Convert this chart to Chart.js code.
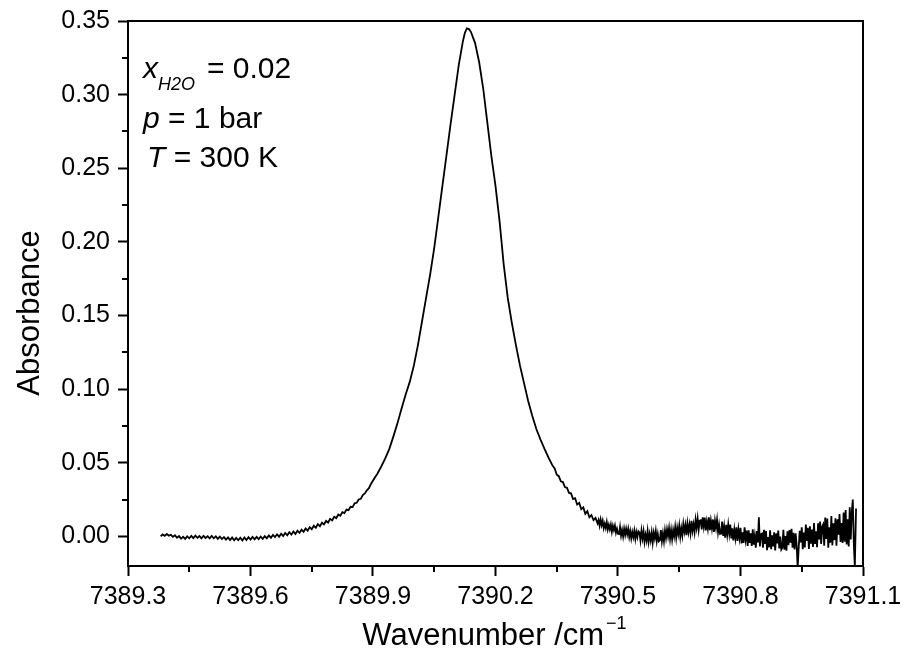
<!DOCTYPE html>
<html>
<head>
<meta charset="utf-8">
<script src="https://cdn.jsdelivr.net/npm/chart.js@4.4.1/dist/chart.umd.min.js"></script>
<style>
html,body{margin:0;padding:0;background:#fff;}
#wrap{width:904px;height:653px;}
</style>
</head>
<body>
<div id="wrap"><canvas id="c" width="904" height="653"></canvas></div>
<script>
// ---- data ----
const wavenumber = [
7389.380,7389.385,7389.390,7389.395,7389.400,7389.405,7389.410,7389.415,7389.420,7389.425,
7389.430,7389.435,7389.440,7389.445,7389.450,7389.455,7389.460,7389.465,7389.470,7389.475,
7389.480,7389.485,7389.490,7389.495,7389.500,7389.505,7389.510,7389.515,7389.520,7389.525,
7389.530,7389.535,7389.540,7389.545,7389.550,7389.555,7389.560,7389.565,7389.570,7389.575,
7389.580,7389.585,7389.590,7389.595,7389.600,7389.605,7389.610,7389.615,7389.620,7389.625,
7389.630,7389.635,7389.640,7389.645,7389.650,7389.655,7389.660,7389.665,7389.670,7389.675,
7389.680,7389.685,7389.690,7389.695,7389.700,7389.705,7389.710,7389.715,7389.720,7389.725,
7389.730,7389.735,7389.740,7389.745,7389.750,7389.755,7389.760,7389.765,7389.770,7389.775,
7389.780,7389.785,7389.790,7389.795,7389.800,7389.805,7389.810,7389.815,7389.820,7389.825,
7389.830,7389.835,7389.840,7389.845,7389.850,7389.855,7389.860,7389.865,7389.870,7389.875,
7389.880,7389.885,7389.890,7389.895,7389.900,7389.905,7389.910,7389.915,7389.920,7389.930,
7389.940,7389.950,7389.960,7389.970,7389.980,7389.990,7390.000,7390.010,7390.020,7390.030,
7390.040,7390.050,7390.060,7390.070,7390.080,7390.090,7390.100,7390.110,7390.120,7390.125,
7390.130,7390.135,7390.140,7390.150,7390.160,7390.170,7390.180,7390.190,7390.200,7390.210,
7390.220,7390.230,7390.240,7390.250,7390.260,7390.270,7390.280,7390.290,7390.300,7390.310,
7390.320,7390.330,7390.340,7390.345,7390.350,7390.355,7390.360,7390.365,7390.370,7390.375,
7390.380,7390.385,7390.390,7390.395,7390.400,7390.405,7390.410,7390.415,7390.420,7390.425,
7390.430,7390.435,7390.440,7390.445,7390.450,
7390.4525,7390.4550,7390.4575,7390.4600,7390.4625,7390.4650,7390.4675,7390.4700,7390.4725,7390.4750,
7390.4775,7390.4800,7390.4825,7390.4850,7390.4875,7390.4900,7390.4925,7390.4950,7390.4975,7390.5000,
7390.5025,7390.5050,7390.5075,7390.5100,7390.5125,7390.5150,7390.5175,7390.5200,7390.5225,7390.5250,
7390.5275,7390.5300,7390.5325,7390.5350,7390.5375,7390.5400,7390.5425,7390.5450,7390.5475,7390.5500,
7390.5525,7390.5550,7390.5575,7390.5600,7390.5625,7390.5650,7390.5675,7390.5700,7390.5725,7390.5750,
7390.5775,7390.5800,7390.5825,7390.5850,7390.5875,7390.5900,7390.5925,7390.5950,7390.5975,7390.6000,
7390.6025,7390.6050,7390.6075,7390.6100,7390.6125,7390.6150,7390.6175,7390.6200,7390.6225,7390.6250,
7390.6275,7390.6300,7390.6325,7390.6350,7390.6375,7390.6400,7390.6425,7390.6450,7390.6475,7390.6500,
7390.6525,7390.6550,7390.6575,7390.6600,7390.6625,7390.6650,7390.6675,7390.6700,7390.6725,7390.6750,
7390.6775,7390.6800,7390.6825,7390.6850,7390.6875,7390.6900,7390.6925,7390.6950,7390.6975,7390.7000,
7390.7025,7390.7050,7390.7075,7390.7100,7390.7125,7390.7150,7390.7175,7390.7200,7390.7225,7390.7250,
7390.7275,7390.7300,7390.7325,7390.7350,7390.7375,7390.7400,7390.7425,7390.7450,7390.7475,7390.7500,
7390.7525,7390.7550,7390.7575,7390.7600,7390.7625,7390.7650,7390.7675,7390.7700,7390.7725,7390.7750,
7390.7775,7390.7800,7390.7825,7390.7850,7390.7875,7390.7900,7390.7925,7390.7950,7390.7975,7390.8000,
7390.8025,7390.8050,7390.8075,7390.8100,7390.8125,7390.8150,7390.8175,7390.8200,7390.8225,7390.8250,
7390.8275,7390.8300,7390.8325,7390.8350,7390.8375,7390.8400,7390.8425,7390.8450,7390.8475,7390.8500,
7390.8525,7390.8550,7390.8575,7390.8600,7390.8625,7390.8650,7390.8675,7390.8700,7390.8725,7390.8750,
7390.8775,7390.8800,7390.8825,7390.8850,7390.8875,7390.8900,7390.8925,7390.8950,7390.8975,7390.9000,
7390.9025,7390.9050,7390.9075,7390.9100,7390.9125,7390.9150,7390.9175,7390.9200,7390.9225,7390.9250,
7390.9275,7390.9300,7390.9325,7390.9350,7390.9375,7390.9400,7390.9425,7390.9450,7390.9475,7390.9500,
7390.9525,7390.9550,7390.9575,7390.9600,7390.9625,7390.9650,7390.9675,7390.9700,7390.9725,7390.9750,
7390.9775,7390.9800,7390.9825,7390.9850,7390.9875,7390.9900,7390.9925,7390.9950,7390.9975,7391.0000,
7391.0025,7391.0050,7391.0075,7391.0100,7391.0125,7391.0150,7391.0175,7391.0200,7391.0225,7391.0250,
7391.0275,7391.0300,7391.0325,7391.0350,7391.0375,7391.0400,7391.0425,7391.0450,7391.0475,7391.0500,
7391.0525,7391.0550,7391.0575,7391.0600,7391.0625,7391.0650,7391.0675,7391.0700,7391.0725,7391.0750,
7391.0775,7391.0800,7391.0830
];
const absorbance = [
0.0002,0.0014,0.0004,0.0017,0.0006,0.0012,-0.0002,0.0009,-0.0008,0.0003,
-0.0014,-0.0002,-0.0016,0.0001,-0.0012,0.0004,-0.0011,0.0006,-0.0009,0.0003,
-0.0012,0.0005,-0.0010,0.0002,-0.0013,0.0004,-0.0012,0.0001,-0.0016,-0.0001,
-0.0017,-0.0004,-0.0021,-0.0006,-0.0024,-0.0007,-0.0026,-0.0009,-0.0025,-0.0008,
-0.0027,-0.0006,-0.0023,-0.0005,-0.0021,-0.0003,-0.0019,-0.0002,-0.0018,0.0000,
-0.0015,0.0003,-0.0012,0.0007,-0.0008,0.0011,-0.0004,0.0015,-0.0001,0.0019,
0.0003,0.0024,0.0008,0.0029,0.0013,0.0034,0.0018,0.0040,0.0025,0.0046,
0.0032,0.0055,0.0040,0.0064,0.0050,0.0073,0.0060,0.0084,0.0070,0.0094,
0.0082,0.0106,0.0095,0.0120,0.0109,0.0134,0.0125,0.0149,0.0141,0.0166,
0.0159,0.0183,0.0179,0.0202,0.0200,0.0226,0.0229,0.0252,0.0256,0.0282,
0.0293,0.0314,0.0328,0.0357,0.0380,0.0402,0.0423,0.0448,0.0474,0.0530,
0.0595,0.0680,0.0770,0.0870,0.0965,0.1050,0.1160,0.1300,0.1460,0.1620,
0.1780,0.1960,0.2170,0.2380,0.2590,0.2800,0.3000,0.3200,0.3360,0.3420,
0.3450,0.3445,0.3425,0.3350,0.3220,0.3040,0.2810,0.2580,0.2380,0.2140,
0.1850,0.1620,0.1450,0.1300,0.1160,0.1040,0.0920,0.0820,0.0730,0.0660,
0.0595,0.0535,0.0480,0.0462,0.0420,0.0410,0.0375,0.0370,0.0336,0.0331,
0.0296,0.0293,0.0254,0.0260,0.0218,0.0228,0.0186,0.0198,0.0154,0.0172,
0.0131,0.0146,0.0112,0.0127,0.0089,
0.0112,0.0074,0.0116,0.0078,0.0107,0.0057,0.0087,0.0058,0.0098,0.0048,
0.0079,0.0049,0.0081,0.0033,0.0073,0.0044,0.0074,0.0026,0.0053,0.0018,
0.0016,0.0065,0.0007,0.0044,0.0000,0.0053,0.0012,0.0053,0.0015,0.0052,
-0.0003,0.0037,-0.0012,0.0031,-0.0004,0.0040,-0.0016,0.0031,-0.0004,0.0036,
0.0028,-0.0026,0.0041,-0.0013,0.0035,-0.0037,0.0011,-0.0027,0.0037,-0.0035,
0.0017,-0.0025,0.0028,-0.0040,0.0026,-0.0012,0.0038,-0.0030,0.0016,-0.0032,
-0.0025,0.0044,-0.0031,0.0022,-0.0032,0.0041,-0.0010,0.0048,0.0002,0.0056,
-0.0014,0.0044,-0.0018,0.0044,0.0002,0.0064,-0.0006,0.0059,0.0016,0.0073,
-0.0002,0.0055,0.0007,0.0085,0.0033,0.0077,0.0009,0.0088,0.0032,0.0081,
0.0024,0.0107,0.0039,0.0083,0.0030,0.0113,0.0060,0.0121,0.0047,0.0108,
0.0111,0.0049,0.0131,0.0069,0.0128,0.0042,0.0101,0.0054,0.0131,0.0044,
0.0107,0.0055,0.0116,0.0032,0.0107,0.0058,0.0114,0.0029,0.0080,0.0017,
0.0020,0.0102,0.0004,0.0066,-0.0007,0.0080,0.0013,0.0081,0.0018,0.0081,
-0.0012,0.0056,-0.0026,0.0047,-0.0011,0.0062,-0.0030,0.0048,-0.0009,0.0059,
-0.0047,0.0029,-0.0044,0.0062,-0.0018,0.0040,-0.0063,0.0043,-0.0043,0.0022,
-0.0064,0.0049,-0.0055,0.0004,-0.0075,0.0038,-0.0041,0.0130,-0.0067,0.0016,
0.0020,-0.0076,0.0046,-0.0050,0.0038,-0.0092,-0.0004,-0.0073,0.0043,-0.0086,
0.0008,-0.0067,0.0028,-0.0094,0.0021,-0.0047,0.0041,-0.0081,0.0000,-0.0088,
-0.0076,0.0046,-0.0090,0.0004,-0.0096,0.0035,-0.0058,0.0044,-0.0042,0.0053,
-0.0076,0.0026,-0.0088,0.0021,-0.0057,-0.0210,-0.0077,0.0039,-0.0040,0.0062,
-0.0086,0.0027,-0.0074,0.0081,-0.0029,0.0059,-0.0085,0.0069,-0.0048,0.0047,
-0.0071,0.0092,-0.0051,0.0036,-0.0073,0.0090,-0.0019,0.0101,-0.0051,0.0069,
0.0083,-0.0062,0.0129,-0.0017,0.0122,-0.0076,0.0062,-0.0042,0.0139,-0.0060,
0.0090,-0.0024,0.0124,-0.0063,0.0118,0.0013,0.0152,-0.0036,0.0092,-0.0043,
0.0163,-0.0036,0.0180,-0.0054,0.0117,-0.0067,0.0199,-0.0020,0.0170,0.0251,
-0.0049,-0.0205,0.0190
];
const xTicks = [7389.3, 7389.6, 7389.9, 7390.2, 7390.5, 7390.8, 7391.1];
const xMinorTicks = [7389.45, 7389.75, 7390.05, 7390.35, 7390.65, 7390.95];
const yTicks = [0.00, 0.05, 0.10, 0.15, 0.20, 0.25, 0.30, 0.35];
const yMinorTicks = [0.025, 0.075, 0.125, 0.175, 0.225, 0.275, 0.325];
const xRange = [7389.3, 7391.1];
const yRange = [-0.02, 0.35];
const xTitle = 'Wavenumber /cm';
const xTitleSup = '\u22121';
const yTitle = 'Absorbance';

const FONT = '"Liberation Sans", Arial, Helvetica, sans-serif';

const points = wavenumber.map((w, i) => ({x: w, y: absorbance[i]}));

function drawRun(ctx, parts, x, y) {
  let cx = x;
  parts.forEach(([t, f, dy]) => {
    ctx.font = f;
    ctx.fillText(t, cx, y + (dy || 0));
    cx += ctx.measureText(t).width;
  });
}

const decor = {
  id: 'decor',
  afterDraw(chart) {
    const ctx = chart.ctx;
    const {left, right, top, bottom} = chart.chartArea;
    const xs = chart.scales.x, ys = chart.scales.y;
    ctx.save();
    ctx.strokeStyle = '#000';
    ctx.lineWidth = 2;
    ctx.beginPath();
    ctx.moveTo(left - 1, top);
    ctx.lineTo(right, top);
    ctx.lineTo(right, bottom + 1);
    ctx.stroke();
    ctx.beginPath();
    xMinorTicks.forEach(v => { const px = Math.round(xs.getPixelForValue(v)); ctx.moveTo(px, bottom); ctx.lineTo(px, bottom + 6); });
    yMinorTicks.forEach(v => { const py = Math.round(ys.getPixelForValue(v)); ctx.moveTo(left, py); ctx.lineTo(left - 6, py); });
    ctx.stroke();

    ctx.fillStyle = '#000';
    ctx.textBaseline = 'alphabetic';
    ctx.textAlign = 'left';
    const it = 'italic 30px ' + FONT, rg = '30px ' + FONT, sub = 'italic 18px ' + FONT;
    drawRun(ctx, [['x', it], ['H2O', sub, 12]], 143, 78);
    ctx.font = rg; ctx.fillText('= 0.02', 207, 78);
    drawRun(ctx, [['p', it], [' = 1 bar', rg]], 143, 128);
    drawRun(ctx, [['T', it], [' = 300 K', rg]], 147, 167);

    const tf = '31px ' + FONT, sf = '18px ' + FONT;
    ctx.font = tf;
    const w1 = ctx.measureText(xTitle).width;
    ctx.font = sf;
    const w2 = ctx.measureText(xTitleSup).width;
    const cx = (left + right) / 2 - 2;
    const x0 = cx - (w1 + w2) / 2;
    ctx.font = tf;
    ctx.fillText(xTitle, x0, 645);
    ctx.font = sf;
    ctx.fillText(xTitleSup, x0 + w1 + 2, 629);

    ctx.translate(39, 313);
    ctx.rotate(-Math.PI / 2);
    ctx.textAlign = 'center';
    ctx.font = tf;
    ctx.fillText(yTitle, 0, 0);
    ctx.restore();
  }
};

new Chart(document.getElementById('c'), {
  type: 'line',
  data: {
    datasets: [{
      data: points,
      borderColor: '#000',
      borderWidth: 1.8,
      pointRadius: 0,
      tension: 0,
      fill: false
    }]
  },
  options: {
    responsive: false,
    animation: false,
    layout: {padding: {top: 21, right: 41, left: 0, bottom: 0}},
    plugins: {legend: {display: false}, tooltip: {enabled: false}},
    scales: {
      x: {
        type: 'linear',
        min: xRange[0], max: xRange[1],
        afterBuildTicks: s => { s.ticks = xTicks.map(v => ({value: v})); },
        afterFit: s => { s.height = 87; s.paddingLeft = 0; s.paddingRight = 0; },
        ticks: {
          color: '#000', padding: 6, maxRotation: 0, autoSkip: false,
          font: {family: FONT, size: 25},
          callback: v => Number(v).toFixed(1)
        },
        grid: {drawOnChartArea: false, drawTicks: true, tickLength: 10, tickWidth: 2, tickColor: '#000', color: '#000'},
        border: {display: true, color: '#000', width: 2}
      },
      y: {
        type: 'linear',
        min: yRange[0], max: yRange[1],
        afterBuildTicks: s => { s.ticks = yTicks.map(v => ({value: v})); },
        afterFit: s => { s.width = 128; s.paddingTop = 0; s.paddingBottom = 0; },
        ticks: {
          color: '#000', padding: 8, autoSkip: false,
          font: {family: FONT, size: 25},
          callback: v => Number(v).toFixed(2)
        },
        grid: {drawOnChartArea: false, drawTicks: true, tickLength: 10, tickWidth: 2, tickColor: '#000', color: '#000'},
        border: {display: true, color: '#000', width: 2}
      }
    }
  },
  plugins: [decor]
});
</script>
</body>
</html>
